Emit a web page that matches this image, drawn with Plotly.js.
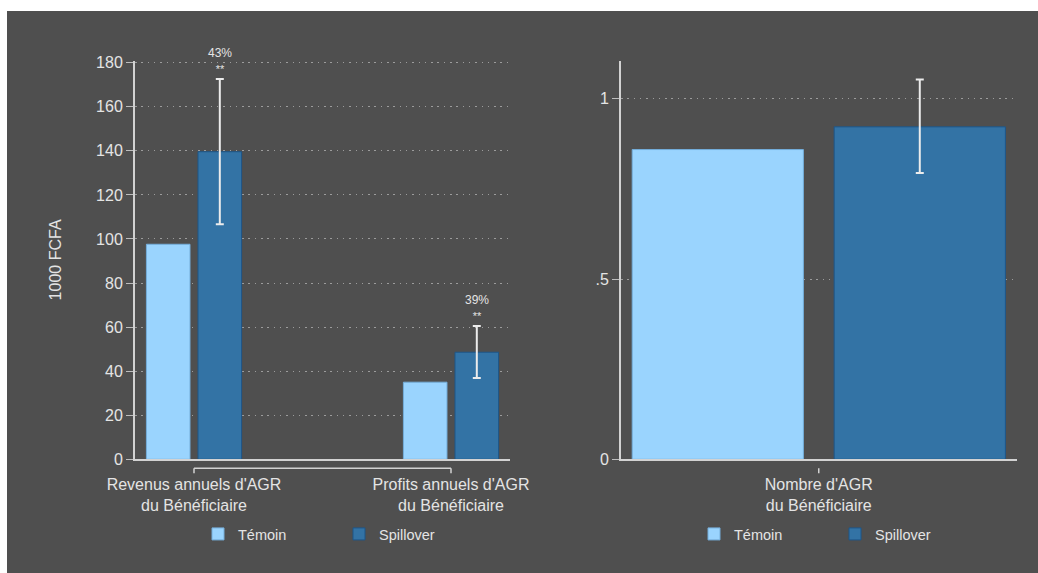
<!DOCTYPE html>
<html>
<head>
<meta charset="utf-8">
<script src="https://cdn.plot.ly/plotly-3.0.1.min.js"></script>
<style>
  html, body { margin: 0; padding: 0; background: #ffffff; width: 1038px; height: 573px; overflow: hidden; }
  #chart { position: absolute; left: 7px; top: 11px; width: 1031px; height: 562px; }
</style>
</head>
<body>
<div id="chart"></div>
<script>
// ---- data ----
const seriesNames = ['Témoin', 'Spillover'];
const catsLeft = ["Revenus annuels d'AGR<br>du Bénéficiaire", "Profits annuels d'AGR<br>du Bénéficiaire"];
const temoinLeft = [97.6, 35.0];
const spillLeft = [139.6, 48.6];
const spillLeftLow = [106.7, 36.9];
const spillLeftHigh = [172.6, 60.5];
const pctLeft = ['43%', '39%'];
const starsLeft = ['**', '**'];
const yTitleLeft = '1000 FCFA';
const yTickValsLeft = [0, 20, 40, 60, 80, 100, 120, 140, 160, 180];

const catsRight = ["Nombre d'AGR<br>du Bénéficiaire"];
const temoinRight = [0.859];
const spillRight = [0.922];
const spillRightLow = [0.794];
const spillRightHigh = [1.053];
const yTickValsRight = [0, 0.5, 1];
const yTickTextRight = ['0', '.5', '1'];

// ---- style ----
const BG = '#4f4f4f';
const TXT = '#e4e4e4';
const AXIS = '#d2d2d2';
const GRID = '#9c9c9c';
const C_TEM = '#9ad4fe';
const C_TEM_LINE = '#74aedb';
const C_SPI = '#3373a5';
const C_SPI_LINE = '#1d5689';
const FONT = 'Liberation Sans, Arial, Helvetica, sans-serif';

// page pixel -> paper helpers (div is offset by 7,11 and 1031x562)
const W = 1031, H = 562;
const px = x => (x - 7) / W;
const py = y => 1 - (y - 11) / H;

const yDomain = [py(459.3), py(60.5)];

// left panel geometry (in category units)
const wL = 0.1696, offTemL = -0.1852, offSpiL = 0.0156;
// right panel geometry
const wR = 0.4329, offTemR = -0.4717, offSpiR = 0.039;

const errPlus = (hi, v) => hi.map((h, i) => h - v[i]);
const errMinus = (lo, v) => lo.map((l, i) => v[i] - l);

const errStyle = { color: '#ececec', thickness: 2, width: 4 };

const traces = [
  { type: 'bar', name: seriesNames[0], x: catsLeft, y: temoinLeft, xaxis: 'x', yaxis: 'y',
    width: wL, offset: offTemL, marker: { color: C_TEM, line: { color: C_TEM_LINE, width: 1 } },
    legend: 'legend', hoverinfo: 'y' },
  { type: 'bar', name: seriesNames[1], x: catsLeft, y: spillLeft, xaxis: 'x', yaxis: 'y',
    width: wL, offset: offSpiL, marker: { color: C_SPI, line: { color: C_SPI_LINE, width: 1 } },
    error_y: Object.assign({ type: 'data', symmetric: false, array: errPlus(spillLeftHigh, spillLeft), arrayminus: errMinus(spillLeftLow, spillLeft) }, errStyle),
    legend: 'legend', hoverinfo: 'y' },
  { type: 'bar', name: seriesNames[0], x: catsRight, y: temoinRight, xaxis: 'x2', yaxis: 'y2',
    width: wR, offset: offTemR, marker: { color: C_TEM, line: { color: C_TEM_LINE, width: 1 } },
    legend: 'legend2', hoverinfo: 'y' },
  { type: 'bar', name: seriesNames[1], x: catsRight, y: spillRight, xaxis: 'x2', yaxis: 'y2',
    width: wR, offset: offSpiR, marker: { color: C_SPI, line: { color: C_SPI_LINE, width: 1 } },
    error_y: Object.assign({ type: 'data', symmetric: false, array: errPlus(spillRightHigh, spillRight), arrayminus: errMinus(spillRightLow, spillRight) }, errStyle),
    legend: 'legend2', hoverinfo: 'y' }
];

// annotations above CI: percentage and significance stars (one text block)
const annotations = pctLeft.map((t, i) => ({
  xref: 'x', yref: 'y', x: i + offSpiL + wL / 2, y: spillLeftHigh[i],
  text: t + '<br><span style="font-size:11px">' + starsLeft[i] + '</span>',
  showarrow: false, yanchor: 'bottom', yshift: 2, font: { family: FONT, size: 12, color: TXT }
}));

// category axis "bracket" (axis line from first to last category with ticks)
const shapes = [];
function bracket(xref, cats) {
  const yl = py(468.3), yt = py(473.3);
  const ln = { color: AXIS, width: 1.5 };
  shapes.push({ type: 'line', xref: xref, yref: 'paper', x0: 0, x1: cats.length - 1, y0: yl, y1: yl, line: ln });
  cats.forEach((c, i) => {
    shapes.push({ type: 'line', xref: xref, yref: 'paper', x0: i, x1: i, y0: yl, y1: yt, line: ln });
  });
}
bracket('x', catsLeft);
bracket('x2', catsRight);

const xBase = {
  type: 'category', showgrid: false, zeroline: false, showline: true, linecolor: AXIS, linewidth: 1.5,
  ticks: '', ticklabelstandoff: 10, tickfont: { family: FONT, size: 16, color: TXT }, fixedrange: true
};
const yBase = {
  showline: true, linecolor: AXIS, linewidth: 2, zeroline: false,
  ticks: 'outside', ticklen: 7, tickwidth: 1, tickcolor: '#bdbdbd',
  showgrid: true, gridcolor: GRID, gridwidth: 1, griddash: '1.5px,4.8px',
  tickfont: { family: FONT, size: 16, color: TXT }, fixedrange: true
};

const layout = {
  width: W, height: H,
  paper_bgcolor: BG, plot_bgcolor: BG,
  margin: { l: 0, r: 0, t: 0, b: 0, autoexpand: false },
  font: { family: FONT, color: TXT },
  barmode: 'group',
  showlegend: true,
  xaxis: Object.assign({}, xBase, { domain: [px(135), px(510)], range: [-0.2296, 1.2296], anchor: 'y' }),
  yaxis: Object.assign({}, yBase, { domain: yDomain, range: [0, 181], tickvals: yTickValsLeft, anchor: 'x',
    title: { text: yTitleLeft, standoff: 30, font: { family: FONT, size: 16, color: TXT } } }),
  xaxis2: Object.assign({}, xBase, { domain: [px(621), px(1016.5)], range: [-0.5, 0.5], anchor: 'y2' }),
  yaxis2: Object.assign({}, yBase, { domain: yDomain, range: [0, 1.106], tickvals: yTickValsRight, ticktext: yTickTextRight, anchor: 'x2' }),
  legend: { orientation: 'h', x: px(198), xanchor: 'left', y: py(534), yanchor: 'middle',
    bgcolor: 'rgba(0,0,0,0)', font: { family: FONT, size: 14.5, color: TXT }, entrywidth: 96, traceorder: 'normal' },
  legend2: { orientation: 'h', x: px(694), xanchor: 'left', y: py(534), yanchor: 'middle',
    bgcolor: 'rgba(0,0,0,0)', font: { family: FONT, size: 14.5, color: TXT }, entrywidth: 96, traceorder: 'normal' },
  annotations: annotations,
  shapes: shapes
};

Plotly.newPlot('chart', traces, layout, { displayModeBar: false, staticPlot: true });
</script>
</body>
</html>
